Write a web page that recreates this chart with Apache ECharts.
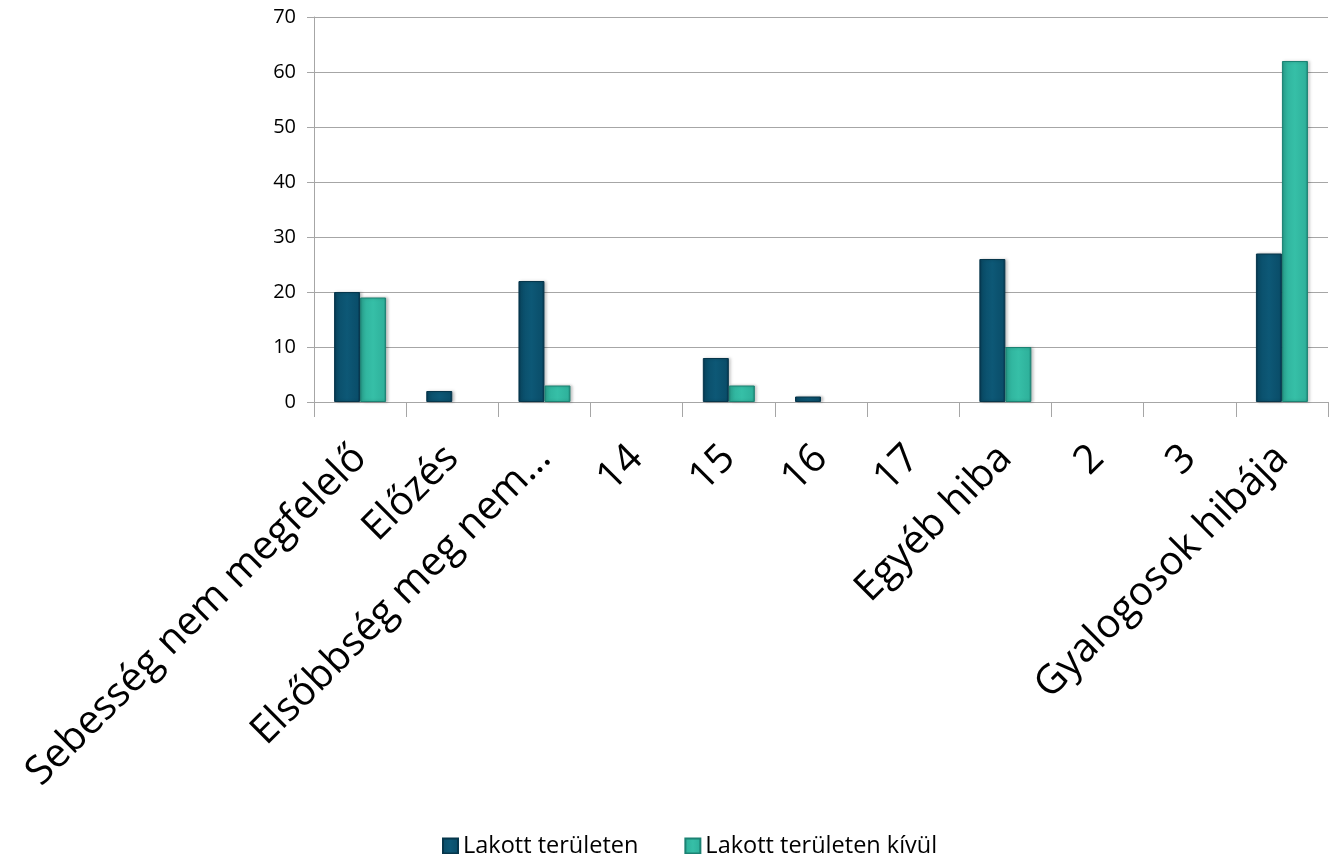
<!DOCTYPE html>
<html>
<head>
<meta charset="utf-8">
<script src="https://cdn.jsdelivr.net/npm/echarts@6/dist/echarts.min.js"></script>
<style>
  html, body { margin: 0; padding: 0; background: #ffffff; }
  #chart { width: 1338px; height: 854px; }
</style>
</head>
<body>
<div id="chart"></div>
<script>
// Accident causes, inside vs. outside built-up areas
const categories = [
  'Sebesség nem megfelelő', 'Előzés', 'Elsőbbség meg nem…', '14', '15', '16', '17',
  'Egyéb hiba', '2', '3', 'Gyalogosok hibája'
];
const seriesNames = ['Lakott területen', 'Lakott területen kívül'];
const insideValues = [20, 2, 22, 0, 8, 1, 0, 26, 0, 0, 27];
const outsideValues = [19, 0, 3, 0, 3, 0, 0, 10, 0, 0, 62];
const yTicks = { min: 0, max: 70, interval: 10 };

// zero-height bars are left out so no outline is drawn for them
const toBars = arr => arr.map(v => (v === 0 ? '-' : v));

function bevel(edge, mid, light) {
  return new echarts.graphic.LinearGradient(0, 0, 1, 0, [
    { offset: 0, color: edge },
    { offset: 0.1, color: mid },
    { offset: 0.5, color: light },
    { offset: 0.9, color: mid },
    { offset: 1, color: edge }
  ]);
}

const chart = echarts.init(document.getElementById('chart'));
const font = '"Open Sans", "Noto Sans", sans-serif';

chart.setOption({
  animation: false,
  grid: { left: 314, right: 10, top: 17, bottom: 452, containLabel: false },
  legend: {
    top: 829,
    left: 437,
    itemWidth: 15,
    itemHeight: 15,
    itemGap: 46,
    icon: 'rect',
    textStyle: { fontFamily: font, fontSize: 23.5, color: '#000' },
    data: seriesNames
  },
  xAxis: {
    type: 'category',
    data: categories,
    axisLine: { lineStyle: { color: '#a6a6a6', width: 1 } },
    axisTick: { show: true, alignWithLabel: false, length: 15, lineStyle: { color: '#a6a6a6' } },
    axisLabel: {
      rotate: 45,
      interval: 0,
      margin: 50,
      fontFamily: font,
      fontSize: 40,
      color: '#000'
    }
  },
  yAxis: {
    type: 'value',
    min: yTicks.min,
    max: yTicks.max,
    interval: yTicks.interval,
    axisLine: { show: true, lineStyle: { color: '#a6a6a6' } },
    axisTick: { show: true, length: 7, lineStyle: { color: '#a6a6a6' } },
    axisLabel: { fontFamily: font, fontSize: 20, color: '#000', margin: 18 },
    splitLine: { lineStyle: { color: '#a6a6a6', width: 1 } }
  },
  series: [
    {
      name: seriesNames[0],
      type: 'bar',
      data: toBars(insideValues),
      barWidth: 26,
      barGap: '0%',
      itemStyle: {
        color: bevel('#03304a', '#0a4e6a', '#0d5876'),
        borderColor: '#06364b',
        borderWidth: 1,
        shadowColor: 'rgba(0,0,0,0.25)',
        shadowBlur: 3,
        shadowOffsetX: 2
      }
    },
    {
      name: seriesNames[1],
      type: 'bar',
      data: toBars(outsideValues),
      barWidth: 26,
      barGap: '0%',
      itemStyle: {
        color: bevel('#1d8a7b', '#2fb29c', '#36bfa7'),
        borderColor: '#1c8273',
        borderWidth: 1,
        shadowColor: 'rgba(0,0,0,0.25)',
        shadowBlur: 3,
        shadowOffsetX: 2
      }
    }
  ]
});
</script>
</body>
</html>
